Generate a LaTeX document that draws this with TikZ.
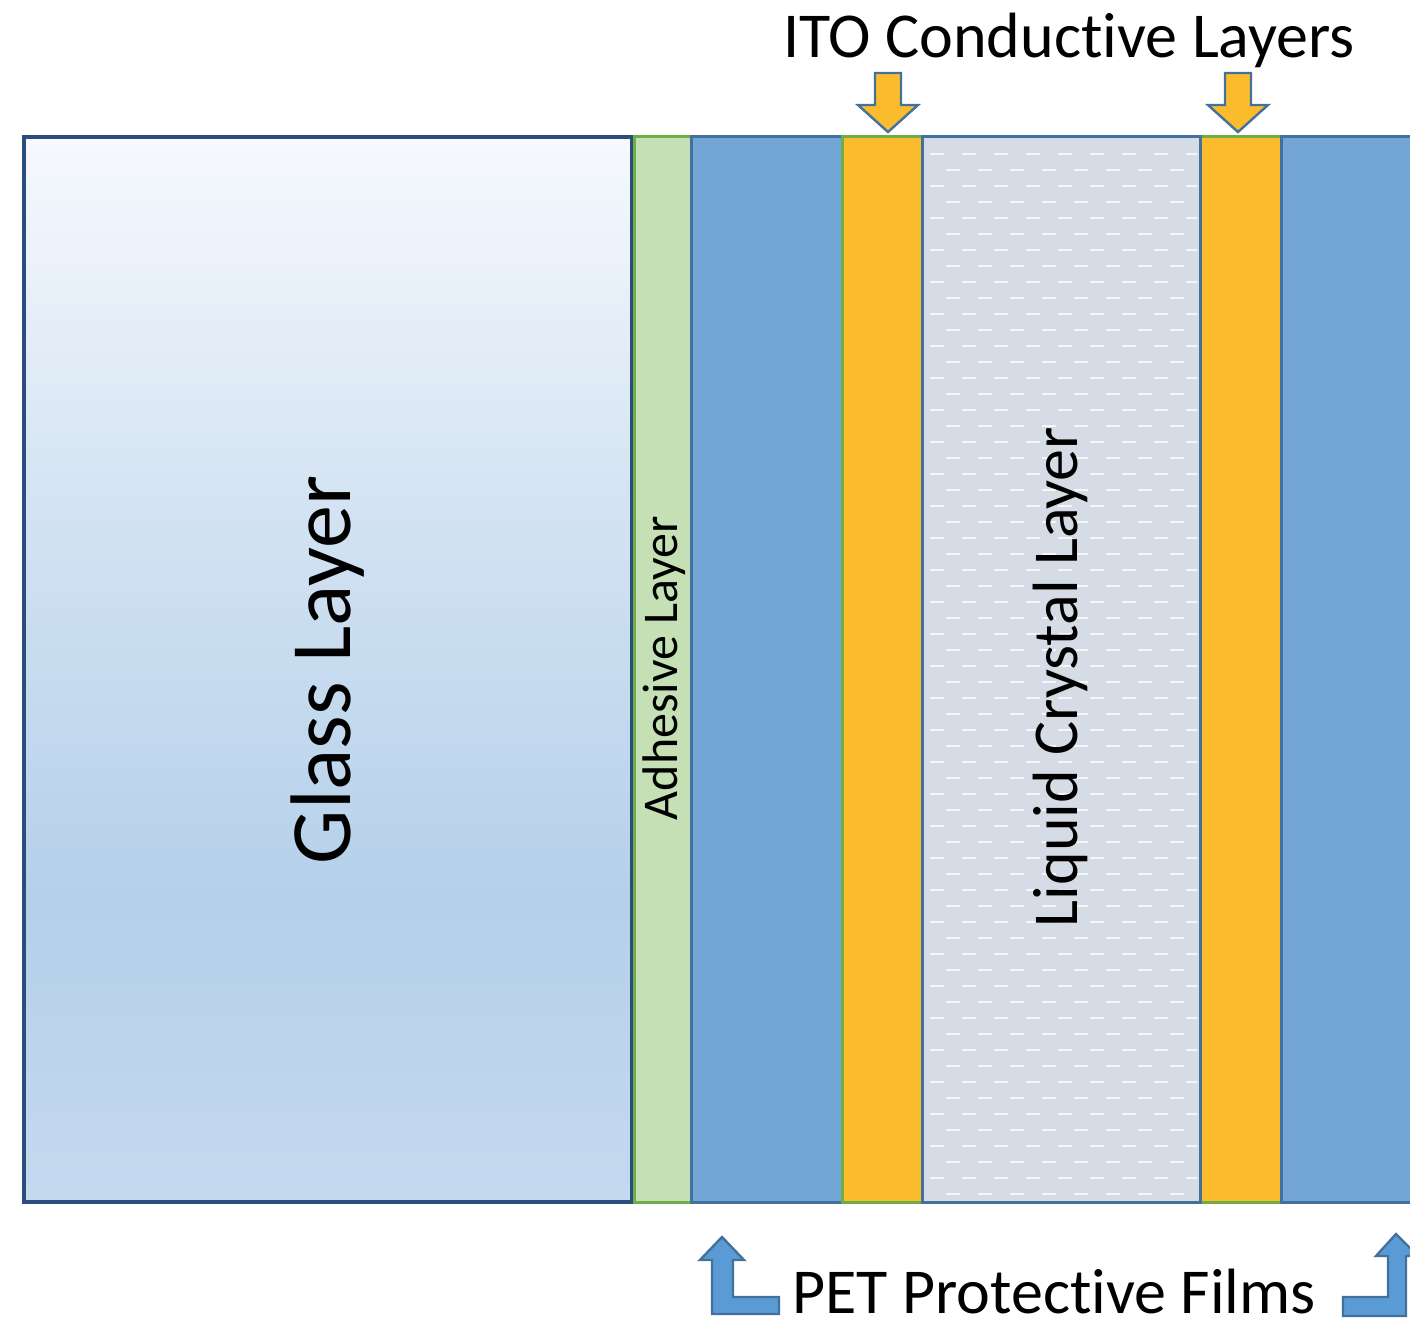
\documentclass[tikz,border=0pt]{standalone}
\usepackage{fontspec}
\setmainfont[Ligatures=NoCommon]{Carlito}
\begin{document}
\begin{tikzpicture}[x=0.5pt,y=-0.5pt,
  layer/.style={line width=1.5pt},
  petfilm/.style={layer,draw=bordblue,fill=petblue},
  itofilm/.style={layer,draw=greenedge,fill=itogold},
  blockarrow/.style={line width=1.2pt,line join=miter},
  lbl/.style={inner sep=0pt,text=black}]
\definecolor{bordblue}{HTML}{41719C}
\definecolor{glassedge}{HTML}{2B4C7E}
\definecolor{petblue}{HTML}{73A6D6}
\definecolor{itogold}{HTML}{FABC2D}
\definecolor{greenedge}{HTML}{70AD47}
\definecolor{adhgreen}{HTML}{C5E0B4}
\definecolor{lcgray}{HTML}{D5DCE5}
\definecolor{arrowblue}{HTML}{5B9BD5}
\definecolor{glasstop}{HTML}{F6F9FD}
\definecolor{glassmid}{HTML}{B5D0EA}
\definecolor{glassbot}{HTML}{C4D9EE}

\useasboundingbox (0,0) rectangle (1410,1327);
\clip (0,0) rectangle (1410,1327);

% glass pane with vertical gradient
\shade[top color=glasstop, bottom color=glassmid, middle color=glassmid!55!glasstop]
  (24,137) rectangle (632,900);
\shade[top color=glassmid, bottom color=glassbot] (24,899) rectangle (632,1202);
\draw[line width=1.8pt,draw=glassedge] (24,137) rectangle (632,1202);
\coordinate (glass) at (328,670);

% adhesive
\draw[layer,draw=greenedge,fill=adhgreen] (634,137) rectangle (691,1202);
% first PET film
\draw[petfilm] (691,137) rectangle (842,1202);
% ITO layers
\draw[itofilm] (842,137) rectangle (922,1202);
\draw[itofilm] (1200,137) rectangle (1281,1202);
% liquid crystal with dash texture
\fill[lcgray] (922,137) rectangle (1200,1202);
\begin{scope}
  \clip (925,140) rectangle (1197,1199);
  \foreach \r in {0,...,66}{
    \pgfmathsetmacro{\yy}{154+16*\r}
    \pgfmathsetmacro{\off}{mod(\r,2)*16}
    \foreach \c in {0,...,9}{
      \draw[white,opacity=0.75,line width=1.1pt]
        ({930+\off+32*\c},\yy) -- ({944+\off+32*\c},\yy);
    }
  }
\end{scope}
\draw[layer,draw=bordblue] (922,137) rectangle (1200,1202);
% second PET film
\draw[petfilm] (1281,137) rectangle (1430,1202);

% rotated layer labels
\node[lbl,rotate=90,font=\fontsize{43}{43}\selectfont] (glasslbl) at (glass) {Glass Layer};
\node[lbl,rotate=90,font=\fontsize{25}{25}\selectfont] (adhlbl) at (664,668) {Adhesive Layer};
\node[lbl,rotate=90,font=\fontsize{32}{32}\selectfont] (lclbl) at (1060,677) {Liquid Crystal Layer};

% ITO caption and down arrows
\node[lbl,font=\fontsize{32}{32}\selectfont] (itolbl) at (1069,40) {ITO Conductive Layers};
\foreach \n/\cx in {itoA/888,itoB/1238}{
  \draw[blockarrow,draw=bordblue,fill=itogold]
    (\cx-13,73) -- (\cx+13,73) -- (\cx+13,105) -- (\cx+30,105) -- (\cx,132)
    -- (\cx-30,105) -- (\cx-13,105) -- cycle;
  \coordinate (\n) at (\cx,132);
}

% PET caption and bent arrows
\node[lbl,anchor=base,text depth=0pt,font=\fontsize{32}{32}\selectfont] (petlbl) at (1054,1313) {PET Protective Films};
\draw[blockarrow,draw=bordblue,fill=arrowblue]
  (722,1237) -- (744,1260) -- (733,1260) -- (733,1297) -- (779,1297)
  -- (779,1314) -- (712,1314) -- (712,1260) -- (700,1260) -- cycle;
\draw[blockarrow,draw=bordblue,fill=arrowblue]
  (1396,1234) -- (1418,1256) -- (1406,1256) -- (1406,1316) -- (1343,1316)
  -- (1343,1297) -- (1388,1297) -- (1388,1256) -- (1376,1256) -- cycle;
\end{tikzpicture}
\end{document}
